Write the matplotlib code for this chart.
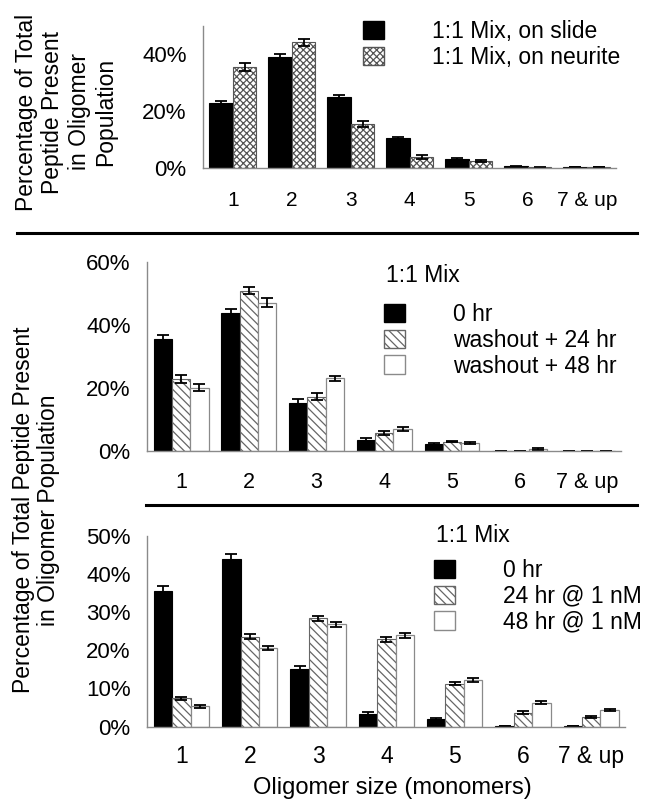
import matplotlib
matplotlib.use("Agg")
import matplotlib.pyplot as plt
import numpy as np
from matplotlib.patches import Patch

plt.rcParams['font.family'] = ['Liberation Sans', 'DejaVu Sans']
plt.rcParams['hatch.linewidth'] = 0.9

categories = ["1", "2", "3", "4", "5", "6", "7 & up"]

# Top panel
top_labels = ["1:1 Mix, on slide", "1:1 Mix, on neurite"]
slide = [22.9, 39.0, 24.9, 10.4, 3.1, 0.5, 0.3]
slide_err = [0.7, 0.9, 0.7, 0.3, 0.3, 0.1, 0.1]
neurite = [35.6, 44.2, 15.3, 3.7, 2.4, 0.1, 0.2]
neurite_err = [1.4, 1.2, 1.1, 0.6, 0.3, 0.05, 0.05]

# Middle panel
mid_labels = ["0 hr", "washout + 24 hr", "washout + 48 hr"]
mid_0hr = [35.4, 43.8, 15.3, 3.5, 2.2, 0.1, 0.1]
mid_0hr_err = [1.4, 1.3, 1.1, 0.6, 0.3, 0.05, 0.05]
mid_24 = [22.8, 50.8, 17.2, 5.7, 3.0, 0.1, 0.1]
mid_24_err = [1.3, 1.1, 1.1, 0.6, 0.3, 0.05, 0.05]
mid_48 = [20.1, 47.0, 23.0, 6.9, 2.4, 0.6, 0.1]
mid_48_err = [1.1, 1.4, 0.8, 0.6, 0.3, 0.2, 0.05]

# Bottom panel
bot_labels = ["0 hr", "24 hr @ 1 nM", "48 hr @ 1 nM"]
bot_0hr = [35.4, 43.9, 15.1, 3.4, 2.0, 0.1, 0.1]
bot_0hr_err = [1.5, 1.3, 0.9, 0.4, 0.4, 0.0, 0.0]
bot_24 = [7.4, 23.6, 28.4, 22.9, 11.3, 3.7, 2.6]
bot_24_err = [0.4, 0.6, 0.6, 0.6, 0.5, 0.3, 0.3]
bot_48 = [5.4, 20.7, 26.8, 23.9, 12.3, 6.3, 4.3]
bot_48_err = [0.4, 0.5, 0.6, 0.7, 0.5, 0.3, 0.3]

W, H = 645, 801
fig = plt.figure(figsize=(W / 100, H / 100), dpi=100)

def add_ax(x0, y0, x1, y1):
    return fig.add_axes([x0 / W, 1 - y1 / H, (x1 - x0) / W, (y1 - y0) / H])

AXC = '#8a8a8a'
LEGFS = 16.5
ekw = dict(ecolor='black', elinewidth=1.3, capsize=4.5, capthick=1.3)

def style(ax, ymax, step, xtfs, xpad=17):
    ax.set_xlim(0, 7)
    ax.set_ylim(0, ymax)
    ax.set_yticks(np.arange(0, ymax + 0.01, step))
    ax.set_yticklabels([f"{int(v)}%" for v in np.arange(0, ymax + 0.01, step)], fontsize=16)
    ax.set_xticks(np.arange(7) + 0.5)
    ax.set_xticklabels(categories, fontsize=xtfs)
    for s in ['top', 'right']:
        ax.spines[s].set_visible(False)
    for s in ['left', 'bottom']:
        ax.spines[s].set_color(AXC)
        ax.spines[s].set_linewidth(1.0)
    ax.tick_params(axis='both', length=0)
    ax.tick_params(axis='x', pad=xpad)
    ax.tick_params(axis='y', pad=12)

x = np.arange(7) + 0.5

# ---- Top panel ----
ax1 = add_ax(203.3, 25.7, 616.3, 167.7)
bw = 0.4
ax1.bar(x - bw / 2, slide, bw, color='black', edgecolor='black', linewidth=0.8,
        yerr=slide_err, error_kw=ekw, label=top_labels[0])
ax1.bar(x + bw / 2, neurite, bw, color='white', edgecolor='#555555', linewidth=0.8,
        hatch='xxxxx', yerr=neurite_err, error_kw=ekw, label=top_labels[1])
style(ax1, 50, 20, 15)
ax1.set_yticks([0, 20, 40])
ax1.set_yticklabels(["0%", "20%", "40%"], fontsize=16)
h1 = [Patch(facecolor='black', edgecolor='black'),
      Patch(facecolor='white', edgecolor='#555555', hatch='xxxxx')]
ax1.legend(h1, top_labels, loc='upper left', bbox_to_anchor=(363 / W, 1 - 20 / H),
           bbox_transform=fig.transFigure, frameon=False, fontsize=LEGFS,
           handlelength=0.9, handleheight=0.85, handletextpad=2.1,
           labelspacing=0.12, borderpad=0, borderaxespad=0)

fig.text(66 / W, 1 - 112 / H,
         "Percentage of Total\nPeptide Present\nin Oligomer\nPopulation",
         rotation=90, ha='center', va='center', fontsize=16.5,
         multialignment='center', linespacing=1.2)

# ---- Middle panel ----
ax2 = add_ax(147.3, 261.7, 621.2, 451.0)
bw3 = 0.27
ax2.bar(x - bw3, mid_0hr, bw3, color='black', edgecolor='black', linewidth=0.8,
        yerr=mid_0hr_err, error_kw=ekw, label=mid_labels[0])
ax2.bar(x, mid_24, bw3, color='white', edgecolor='#666666', linewidth=0.8,
        hatch=r'\\\\', yerr=mid_24_err, error_kw=ekw, label=mid_labels[1])
ax2.bar(x + bw3, mid_48, bw3, color='white', edgecolor='#8a8a8a', linewidth=0.9,
        yerr=mid_48_err, error_kw=ekw, label=mid_labels[2])
style(ax2, 60, 20, 15.5, xpad=15)
fig.text(386 / W, 1 - 276 / H, "1:1 Mix", ha='left', va='center', fontsize=LEGFS)
h3 = [Patch(facecolor='black', edgecolor='black'),
      Patch(facecolor='white', edgecolor='#666666', hatch=r'\\\\'),
      Patch(facecolor='white', edgecolor='#8a8a8a')]
ax2.legend(h3, mid_labels, loc='upper left', bbox_to_anchor=(384 / W, 1 - 303 / H),
           bbox_transform=fig.transFigure, frameon=False, fontsize=LEGFS,
           handlelength=0.9, handleheight=0.85, handletextpad=2.1,
           labelspacing=0.12, borderpad=0, borderaxespad=0)

# ---- Bottom panel ----
ax3 = add_ax(147.3, 535.7, 625.4, 726.7)
ax3.bar(x - bw3, bot_0hr, bw3, color='black', edgecolor='black', linewidth=0.8,
        yerr=bot_0hr_err, error_kw=ekw, label=bot_labels[0])
ax3.bar(x, bot_24, bw3, color='white', edgecolor='#666666', linewidth=0.8,
        hatch=r'\\\\', yerr=bot_24_err, error_kw=ekw, label=bot_labels[1])
ax3.bar(x + bw3, bot_48, bw3, color='white', edgecolor='#8a8a8a', linewidth=0.9,
        yerr=bot_48_err, error_kw=ekw, label=bot_labels[2])
style(ax3, 50, 10, 16.5, xpad=13)
fig.text(436 / W, 1 - 536 / H, "1:1 Mix", ha='left', va='center', fontsize=LEGFS)
ax3.legend(h3, bot_labels, loc='upper left', bbox_to_anchor=(434 / W, 1 - 559 / H),
           bbox_transform=fig.transFigure, frameon=False, fontsize=LEGFS,
           handlelength=0.9, handleheight=0.85, handletextpad=2.1,
           labelspacing=0.12, borderpad=0, borderaxespad=0)

fig.text(392 / W, 1 - 788 / H, "Oligomer size (monomers)", ha='center',
         va='center', fontsize=17)

fig.text(36 / W, 1 - 510 / H,
         "Percentage of Total Peptide Present\nin Oligomer Population",
         rotation=90, ha='center', va='center', fontsize=16.5,
         multialignment='center', linespacing=1.15)

# Separator lines
fig.add_artist(plt.Line2D([17 / W, 637 / W], [1 - 233 / H, 1 - 233 / H],
                          color='black', linewidth=2.2))
fig.add_artist(plt.Line2D([146 / W, 637 / W], [1 - 505 / H, 1 - 505 / H],
                          color='black', linewidth=2.2))

fig.savefig("out.png", dpi=100, facecolor='white')
